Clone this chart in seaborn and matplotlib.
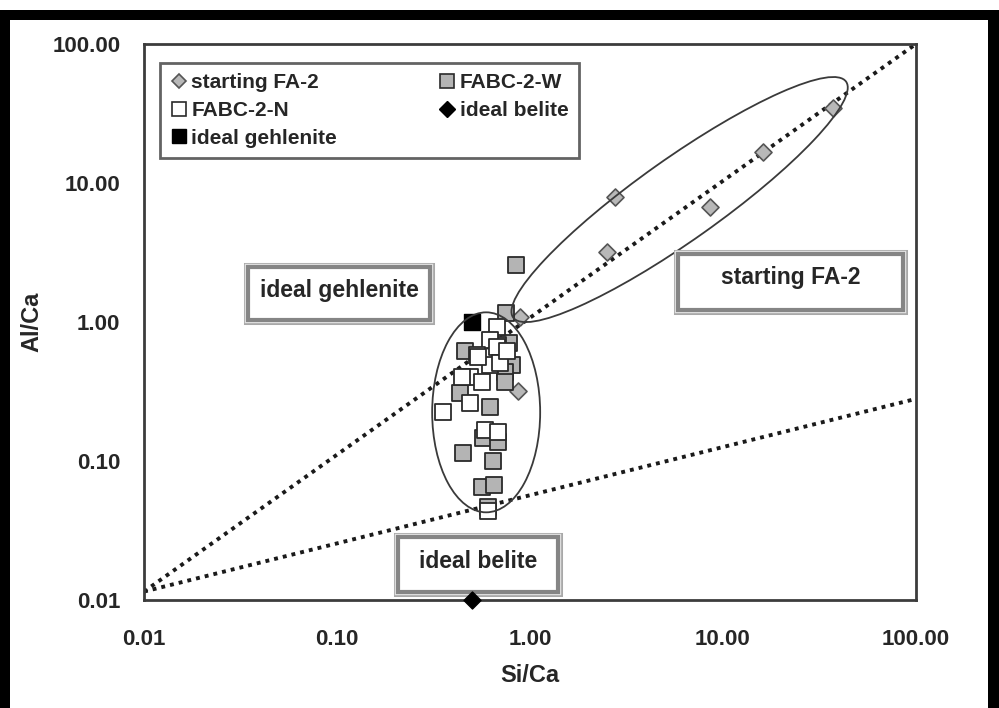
import numpy as np
import pandas as pd
import seaborn as sns
import matplotlib
matplotlib.use("Agg")
import matplotlib.pyplot as plt
from matplotlib import patheffects, transforms
from matplotlib.patches import Ellipse, Rectangle
from matplotlib.lines import Line2D
from matplotlib.ticker import LogLocator, FuncFormatter, NullFormatter

# ---- data: atomic ratios Si/Ca (x) and Al/Ca (y) ----
# starting fly ash FA-2
fa2_si = [37.2, 16.1, 8.6, 2.76, 2.51, 0.89, 0.87]
fa2_al = [34.7, 16.7, 6.7, 7.9, 3.2, 1.09, 0.32]

# FABC-2-W
w_si = [0.846, 0.751, 0.460, 0.778, 0.807, 0.742, 0.742, 0.433, 0.621,
        0.449, 0.643, 0.571, 0.683, 0.564, 0.651, 0.606, 0.683]
w_al = [2.57, 1.16, 0.62, 0.71, 0.49, 0.44, 0.37, 0.31, 0.245,
        0.114, 0.100, 0.146, 0.137, 0.065, 0.067, 0.047, 0.68]

# FABC-2-N
n_si = [0.675, 0.621, 0.675, 0.531, 0.621, 0.489, 0.564, 0.489, 0.354,
        0.585, 0.683, 0.538, 0.699, 0.760, 0.444, 0.606]
n_al = [0.92, 0.74, 0.66, 0.58, 0.49, 0.40, 0.37, 0.26, 0.225,
        0.167, 0.162, 0.56, 0.51, 0.62, 0.40, 0.044]

# ideal phases
belite_si, belite_al = [0.5], [0.01]
gehlenite_si, gehlenite_al = [0.5], [1.0]

# dotted reference lines
gehl_line_si, gehl_line_al = [0.01, 100.0], [0.0115, 100.0]
bel_line_si, bel_line_al = [0.01, 100.0], [0.0115, 0.28]

tick_values = [0.01, 0.1, 1, 10, 100]

# ---- style ----
sns.set_style("white")
plt.rcParams["font.family"] = ["Liberation Sans", "DejaVu Sans"]
plt.rcParams["font.weight"] = "bold"

fig = plt.figure(figsize=(9.99, 7.08), dpi=100)
fig.patch.set_facecolor("white")

# black picture frame (left, top, right)
for (x0, y0, w, h) in [(0.0, 0.0, 0.010, 0.986), (0.0, 0.972, 1.0, 0.014),
                       (0.989, 0.0, 0.011, 0.986)]:
    fig.add_artist(Rectangle((x0, y0), w, h, transform=fig.transFigure,
                             facecolor="black", edgecolor="none", zorder=0))

ax = fig.add_axes([0.1441, 0.1525, 0.7728, 0.7854])
ax.set_xscale("log")
ax.set_yscale("log")
ax.set_xlim(0.01, 100)
ax.set_ylim(0.01, 100)

# dotted lines
dot = (0, (1.0, 1.3))
sns.lineplot(x=gehl_line_si, y=gehl_line_al, ax=ax, color="#1a1a1a",
             lw=2.8, linestyle=dot, zorder=2, legend=False)
sns.lineplot(x=bel_line_si, y=bel_line_al, ax=ax, color="#1a1a1a",
             lw=2.8, linestyle=dot, zorder=2, legend=False)

# series markers
sns.scatterplot(x=fa2_si, y=fa2_al, ax=ax, marker="D", s=75,
                color="#b8b8b8", edgecolor="#555555", linewidth=1.2,
                zorder=4, legend=False)
sns.scatterplot(x=w_si, y=w_al, ax=ax, marker="s", s=140,
                color="#b4b4b4", edgecolor="#2a2a2a", linewidth=1.3,
                zorder=5, legend=False)
sns.scatterplot(x=n_si, y=n_al, ax=ax, marker="s", s=140,
                color="white", edgecolor="#2a2a2a", linewidth=1.3,
                zorder=6, legend=False)
sns.scatterplot(x=belite_si, y=belite_al, ax=ax, marker="D", s=75,
                color="black", edgecolor="black", linewidth=1,
                zorder=12, legend=False, clip_on=False)
sns.scatterplot(x=gehlenite_si, y=gehlenite_al, ax=ax, marker="s", s=135,
                color="black", edgecolor="black", linewidth=1,
                zorder=7, legend=False)

# grouping ellipses, sized in inches and anchored at a data point
def ring(center, w_in, h_in, angle):
    tr = fig.dpi_scale_trans + transforms.ScaledTranslation(
        center[0], center[1], ax.transData)
    ax.add_patch(Ellipse((0, 0), w_in, h_in, angle=angle, transform=tr,
                         fill=False, edgecolor="#3a3a3a", lw=1.3, zorder=8))

ring((0.593, 0.224), 1.08, 2.00, 0)
ring((5.96, 7.6), 4.08, 0.82, 35.3)

# framed annotations: box given in axes fractions (x0, y0, x1, y1)
def framed(box, text, dy=0.0):
    x0, y0, x1, y1 = box
    rect = Rectangle((x0, y0), x1 - x0, y1 - y0, transform=ax.transAxes,
                     facecolor="white", edgecolor="#858585", lw=3.0,
                     zorder=9)
    rect.set_path_effects([
        patheffects.Stroke(linewidth=6.5, foreground="#a8a8a8"),
        patheffects.Stroke(linewidth=4.6, foreground="#e4e4e4"),
        patheffects.Normal()])
    ax.add_patch(rect)
    ax.text((x0 + x1) / 2, (y0 + y1) / 2 + dy, text, transform=ax.transAxes,
            ha="center", va="center", fontsize=16.5, fontweight="bold",
            zorder=10)

framed((0.1347, 0.5036, 0.3705, 0.5989), "ideal gehlenite", 0.006)
framed((0.6917, 0.5216, 0.9832, 0.6223), "starting FA-2", 0.008)
framed((0.3290, 0.0140, 0.5363, 0.1133), "ideal belite", 0.006)

# axes styling
for sp in ax.spines.values():
    sp.set_color("#3c3c3c")
    sp.set_linewidth(2)
fmt = FuncFormatter(lambda v, pos: f"{v:.2f}")
ax.set_xticks(tick_values)
ax.set_yticks(tick_values)
ax.xaxis.set_minor_locator(LogLocator(base=10, subs=np.arange(2, 10), numticks=10))
ax.yaxis.set_minor_locator(LogLocator(base=10, subs=np.arange(2, 10), numticks=10))
ax.xaxis.set_major_formatter(fmt)
ax.yaxis.set_major_formatter(fmt)
ax.xaxis.set_minor_formatter(NullFormatter())
ax.yaxis.set_minor_formatter(NullFormatter())
ax.tick_params(which="major", direction="out", length=6, width=1.2,
               color="#3c3c3c", labelsize=16)
ax.tick_params(which="minor", direction="out", length=4.5, width=1.2,
               color="#3c3c3c")
ax.tick_params(axis="x", which="major", pad=15)
ax.tick_params(axis="y", which="major", pad=11)
for lab in ax.get_xticklabels() + ax.get_yticklabels():
    lab.set_fontweight("bold")

ax.set_xlabel("Si/Ca", fontsize=17, fontweight="bold", labelpad=10)
ax.set_ylabel("Al/Ca", fontsize=17, fontweight="bold", labelpad=6)

# legend
handles = [
    Line2D([], [], ls="", marker="D", ms=7.5, mfc="#b8b8b8", mec="#555555", mew=1.2),
    Line2D([], [], ls="", marker="s", ms=9.5, mfc="white", mec="#2a2a2a", mew=1.2),
    Line2D([], [], ls="", marker="s", ms=9.5, mfc="black", mec="black", mew=1),
    Line2D([], [], ls="", marker="s", ms=9.5, mfc="#b4b4b4", mec="#2a2a2a", mew=1.2),
    Line2D([], [], ls="", marker="D", ms=8, mfc="black", mec="black", mew=1),
]
labels = ["starting FA-2", "FABC-2-N", "ideal gehlenite", "FABC-2-W", "ideal belite"]
leg = ax.legend(handles, labels, ncol=2, loc="upper left",
                bbox_to_anchor=(0.0207, 0.966), frameon=True, fancybox=False,
                prop={"size": 15, "weight": "bold"}, handlelength=0.8,
                handletextpad=0.2, columnspacing=4.9, labelspacing=0.42,
                borderpad=0.5, borderaxespad=0)
leg.get_frame().set_edgecolor("#3c3c3c")
leg.get_frame().set_linewidth(2)
leg.set_zorder(11)

fig.savefig("out.png", dpi=100, facecolor="white")
